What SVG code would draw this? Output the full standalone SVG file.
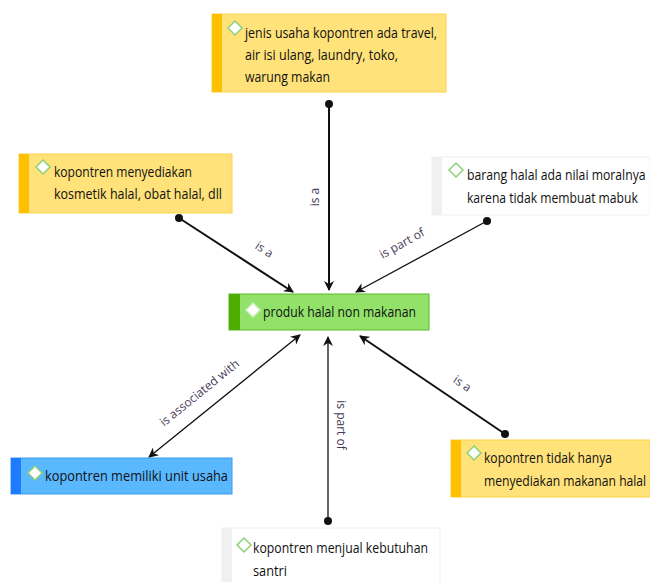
<svg xmlns="http://www.w3.org/2000/svg" width="650" height="582" viewBox="0 0 650 582">
<defs>
<style>
.t{font-family:"Open Sans","Noto Sans",sans-serif;font-size:15px;fill:#111}
.l{font-family:"Open Sans","Noto Sans",sans-serif;font-size:12px;fill:#4a3a5a}
.e{stroke:#111;fill:none}
.dia{fill:#fff;stroke:#8fd07a;stroke-width:1.5}
</style>
<marker id="ar" viewBox="0 0 10 10" refX="9" refY="5" markerWidth="10" markerHeight="10" markerUnits="userSpaceOnUse" orient="auto-start-reverse">
<path d="M0,0 L10,5 L0,10 L3,5 z" fill="#111"/>
</marker>
<marker id="dot" viewBox="0 0 10 10" refX="5" refY="5" markerWidth="8" markerHeight="8" markerUnits="userSpaceOnUse">
<circle cx="5" cy="5" r="5" fill="#111"/>
</marker>
</defs>
<rect width="650" height="582" fill="#fff"/>
<g id="connectors">
<line class="e" stroke-width="2" x1="329" y1="104" x2="329" y2="290" marker-start="url(#dot)" marker-end="url(#ar)"/>
<text class="l" transform="translate(319,197) rotate(-90)" text-anchor="middle">is a</text>
<line class="e" stroke-width="2" x1="179" y1="218" x2="293" y2="292" marker-start="url(#dot)" marker-end="url(#ar)"/>
<text class="l" transform="translate(262,253) rotate(33)" text-anchor="middle">is a</text>
<line class="e" stroke-width="1.3" x1="487" y1="221" x2="356" y2="292" marker-start="url(#dot)" marker-end="url(#ar)"/>
<text class="l" transform="translate(404,247) rotate(-29)" text-anchor="middle">is part of</text>
<line class="e" stroke-width="1.3" x1="300" y1="335" x2="149" y2="457" marker-start="url(#ar)" marker-end="url(#ar)"/>
<text class="l" transform="translate(202,396) rotate(-39)" text-anchor="middle">is associated with</text>
<line class="e" stroke-width="1.3" x1="328" y1="521" x2="328" y2="337" marker-start="url(#dot)" marker-end="url(#ar)"/>
<text class="l" transform="translate(337,425) rotate(90)" text-anchor="middle">is part of</text>
<line class="e" stroke-width="2" x1="505" y1="434" x2="360" y2="336" marker-start="url(#dot)" marker-end="url(#ar)"/>
<text class="l" transform="translate(460,387) rotate(34)" text-anchor="middle">is a</text>
</g>
<g id="n1">
<rect x="212" y="14" width="234" height="78" fill="#ffe27a" stroke="#fcd34d"/>
<rect x="212" y="14" width="10" height="78" fill="#ffc000"/>
<path class="dia" d="M235,21 l7,7 l-7,7 l-7,-7 z"/>
<text class="t" x="245" y="38" textLength="192" lengthAdjust="spacingAndGlyphs">jenis usaha kopontren ada travel,</text>
<text class="t" x="245" y="60" textLength="153" lengthAdjust="spacingAndGlyphs">air isi ulang, laundry, toko,</text>
<text class="t" x="245" y="82" textLength="85" lengthAdjust="spacingAndGlyphs">warung makan</text>
</g>
<g id="n2">
<rect x="19" y="154" width="213" height="59" fill="#ffe27a" stroke="#fcd34d"/>
<rect x="19" y="154" width="10" height="59" fill="#ffc000"/>
<path class="dia" d="M43,160 l7,7 l-7,7 l-7,-7 z"/>
<text class="t" x="54" y="177" textLength="138" lengthAdjust="spacingAndGlyphs">kopontren menyediakan</text>
<text class="t" x="54" y="199" textLength="168" lengthAdjust="spacingAndGlyphs">kosmetik halal, obat halal, dll</text>
</g>
<g id="n3">
<rect x="432" y="157" width="218" height="58" fill="#fff" stroke="#f0f0f0"/>
<rect x="432" y="157" width="10" height="58" fill="#f0f0f0"/>
<path class="dia" d="M456,163 l7,7 l-7,7 l-7,-7 z"/>
<text class="t" transform="translate(467,180) scale(0.815,1)">barang halal ada nilai moralnya</text>
<text class="t" transform="translate(467,203) scale(0.81,1)">karena tidak membuat mabuk</text>
</g>
<g id="n4">
<rect x="229" y="294" width="200" height="36" fill="#92e26a" stroke="#5cb82a"/>
<rect x="229" y="294" width="11" height="36" fill="#4caf00"/>
<path class="dia" d="M253,303 l7,7 l-7,7 l-7,-7 z" style="stroke:#d0f0c0"/>
<text class="t" x="263" y="317" textLength="153" lengthAdjust="spacingAndGlyphs">produk halal non makanan</text>
</g>
<g id="n5">
<rect x="11" y="458" width="221" height="36" fill="#5ab8ff" stroke="#3a9cf0"/>
<rect x="11" y="458" width="10" height="36" fill="#1e7bff"/>
<path class="dia" d="M35,466 l7,7 l-7,7 l-7,-7 z"/>
<text class="t" x="45" y="481" textLength="183" lengthAdjust="spacingAndGlyphs">kopontren memiliki unit usaha</text>
</g>
<g id="n6">
<rect x="451" y="440" width="199" height="57" fill="#ffe27a" stroke="#fcd34d"/>
<rect x="451" y="440" width="10" height="57" fill="#ffc000"/>
<path class="dia" d="M474,446 l7,7 l-7,7 l-7,-7 z"/>
<text class="t" x="484" y="463" textLength="128" lengthAdjust="spacingAndGlyphs">kopontren tidak hanya</text>
<text class="t" transform="translate(484,486) scale(0.81,1)">menyediakan makanan halal</text>
</g>
<g id="n7">
<rect x="222" y="528" width="218" height="60" fill="#fff" stroke="#f0f0f0"/>
<rect x="222" y="528" width="10" height="60" fill="#f0f0f0"/>
<path class="dia" d="M244,538 l7,7 l-7,7 l-7,-7 z"/>
<text class="t" x="253" y="553" textLength="175" lengthAdjust="spacingAndGlyphs">kopontren menjual kebutuhan</text>
<text class="t" x="253" y="576" textLength="34" lengthAdjust="spacingAndGlyphs">santri</text>
</g>
</svg>
